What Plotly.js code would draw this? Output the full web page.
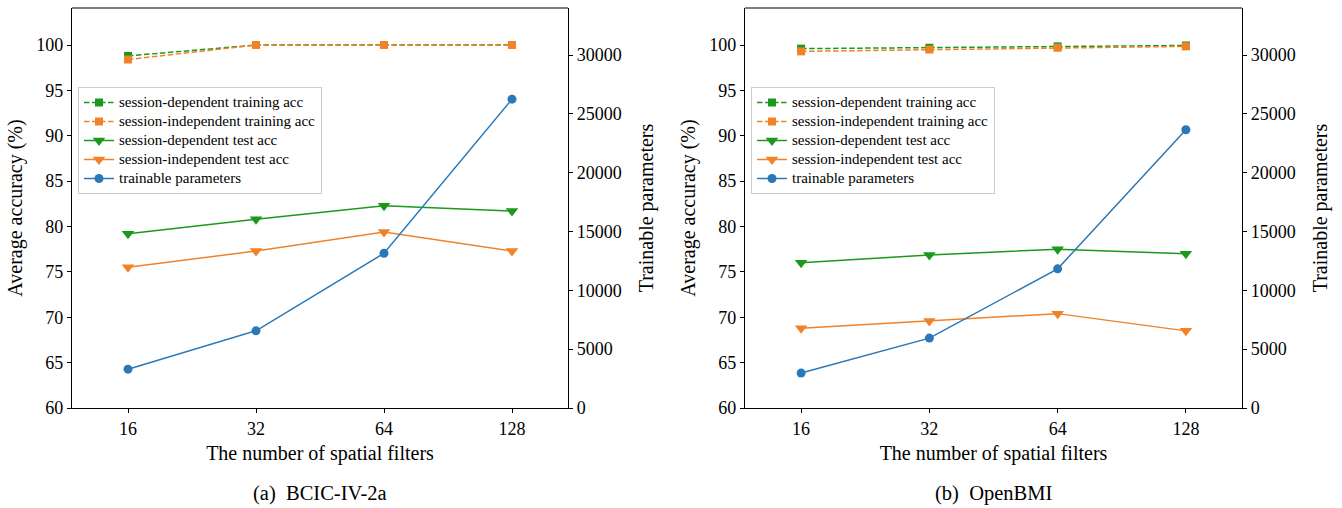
<!DOCTYPE html>
<html>
<head>
<meta charset="utf-8">
<script src="https://cdn.plot.ly/plotly-3.0.1.min.js"></script>
<style>html,body{margin:0;padding:0;background:#fff;}#chart{width:1342px;height:508px;}</style>
</head>
<body>
<div id="chart"></div>
<script>
// ---- data ----
const filters = ["16", "32", "64", "128"];
const seriesNames = ["session-dependent training acc", "session-independent training acc",
  "session-dependent test acc", "session-independent test acc", "trainable parameters"];

// (a) BCIC-IV-2a
const bcicSdTrain = [98.8, 100.0, 100.0, 100.0];
const bcicSiTrain = [98.4, 100.0, 100.0, 100.0];
const bcicSdTest  = [79.2, 80.8, 82.3, 81.7];
const bcicSiTest  = [75.5, 77.3, 79.4, 77.3];
const bcicParams  = [3300, 6560, 13150, 26250];

// (b) OpenBMI
const obmiSdTrain = [99.6, 99.7, 99.85, 99.95];
const obmiSiTrain = [99.3, 99.5, 99.7, 99.85];
const obmiSdTest  = [76.0, 76.85, 77.5, 77.0];
const obmiSiTest  = [68.8, 69.6, 70.4, 68.5];
const obmiParams  = [2970, 5940, 11830, 23650];

const captions = ["(a)  BCIC-IV-2a", "(b)  OpenBMI"];

// ---- styling ----
const GREEN = "#1c991c", ORANGE = "#f28228", BLUE = "#2a78b8";
const FONT = "Liberation Serif, Times New Roman, serif";
const lbl = (s) => '<span style="font-size:15px">' + s + '</span>';

function makeTraces(sdTr, siTr, sdTe, siTe, params, xa, ya, ya2, legendId) {
  const base = {x: filters, type: "scatter", mode: "lines+markers", xaxis: xa, legend: legendId};
  return [
    Object.assign({}, base, {y: sdTr, yaxis: ya, name: lbl(seriesNames[0]),
      line: {color: GREEN, width: 1.5, dash: "5.5px,2.5px"},
      marker: {symbol: "square", size: 8, color: GREEN}}),
    Object.assign({}, base, {y: siTr, yaxis: ya, name: lbl(seriesNames[1]),
      line: {color: ORANGE, width: 1.5, dash: "5.5px,2.5px"},
      marker: {symbol: "square", size: 8, color: ORANGE}}),
    Object.assign({}, base, {y: sdTe, yaxis: ya, name: lbl(seriesNames[2]),
      line: {color: GREEN, width: 1.5},
      marker: {symbol: "triangle-down", size: 11, color: GREEN}}),
    Object.assign({}, base, {y: siTe, yaxis: ya, name: lbl(seriesNames[3]),
      line: {color: ORANGE, width: 1.5},
      marker: {symbol: "triangle-down", size: 11, color: ORANGE}}),
    Object.assign({}, base, {y: params, yaxis: ya2, name: lbl(seriesNames[4]),
      line: {color: BLUE, width: 1.5},
      marker: {symbol: "circle", size: 9, color: BLUE}})
  ];
}

const traces = [].concat(
  makeTraces(bcicSdTrain, bcicSiTrain, bcicSdTest, bcicSiTest, bcicParams, "x", "y", "y2", "legend"),
  makeTraces(obmiSdTrain, obmiSiTrain, obmiSdTest, obmiSiTest, obmiParams, "x2", "y3", "y4", "legend2")
);

const W = 1342, H = 508;
const yDom = [(H - 408) / H, (H - 8) / H];
const d1 = [72 / W, 568 / W], d2 = [745 / W, 1242 / W];

const tickFont = {family: FONT, size: 18, color: "#000"};
const titleFont = {family: FONT, size: 20, color: "#000"};

function xaxisCfg(dom, anchor) {
  return {domain: dom, anchor: anchor, type: "category", range: [-0.4375, 3.4375],
    showline: true, linecolor: "#000", linewidth: 1.2, mirror: false,
    ticks: "outside", ticklen: 4, tickcolor: "#000", tickfont: tickFont, showgrid: false, zeroline: false,
    title: {text: "The number of spatial filters", font: titleFont, standoff: 8}};
}
function yLeftCfg(xa) {
  return {domain: yDom, anchor: xa, range: [60, 104.08], tickvals: [60,65,70,75,80,85,90,95,100],
    showline: true, linecolor: "#000", linewidth: 1.2, ticks: "outside", ticklen: 4, tickcolor: "#000",
    tickfont: tickFont, showgrid: false, zeroline: false,
    title: {text: "Average accuracy (%)", font: titleFont, standoff: 8}};
}
function yRightCfg(xa, over) {
  return {domain: yDom, anchor: xa, overlaying: over, side: "right", range: [0, 34000],
    tickvals: [0,5000,10000,15000,20000,25000,30000], tickformat: "d",
    showline: true, linecolor: "#000", linewidth: 1.2, ticks: "outside", ticklen: 4, tickcolor: "#000",
    tickfont: tickFont, showgrid: false, zeroline: false,
    title: {text: "Trainable parameters", font: titleFont, standoff: 18}};
}

const legendCfg = (xpx) => ({x: xpx / W, y: (H - 87) / H, xanchor: "left", yanchor: "top",
  bgcolor: "rgba(255,255,255,0.85)", bordercolor: "#cccccc", borderwidth: 1,
  font: {family: FONT, size: 12, color: "#000"}, tracegroupgap: 0, itemwidth: 30});

const capFont = {family: FONT, size: 20.5, color: "#000"};

const layout = {
  width: W, height: H, margin: {l: 0, r: 0, t: 0, b: 0},
  paper_bgcolor: "#fff", plot_bgcolor: "#fff", showlegend: true,
  font: {family: FONT, color: "#000"},
  xaxis: xaxisCfg(d1, "y"),
  yaxis: yLeftCfg("x"),
  yaxis2: yRightCfg("x", "y"),
  xaxis2: xaxisCfg(d2, "y3"),
  yaxis3: yLeftCfg("x2"),
  yaxis4: yRightCfg("x2", "y3"),
  legend: legendCfg(78),
  legend2: legendCfg(751),
  shapes: [
    {type: "line", xref: "paper", yref: "paper", x0: d1[0], x1: d1[1], y0: yDom[1], y1: yDom[1], line: {color: "#000", width: 1.2}},
    {type: "line", xref: "paper", yref: "paper", x0: d2[0], x1: d2[1], y0: yDom[1], y1: yDom[1], line: {color: "#000", width: 1.2}}
  ],
  annotations: [
    {text: captions[0], xref: "paper", yref: "paper", x: (d1[0] + d1[1]) / 2, y: (H - 493) / H,
      xanchor: "center", yanchor: "middle", showarrow: false, font: capFont},
    {text: captions[1], xref: "paper", yref: "paper", x: (d2[0] + d2[1]) / 2, y: (H - 493) / H,
      xanchor: "center", yanchor: "middle", showarrow: false, font: capFont}
  ]
};

Plotly.newPlot("chart", traces, layout, {displayModeBar: false, staticPlot: true});
</script>
</body>
</html>
